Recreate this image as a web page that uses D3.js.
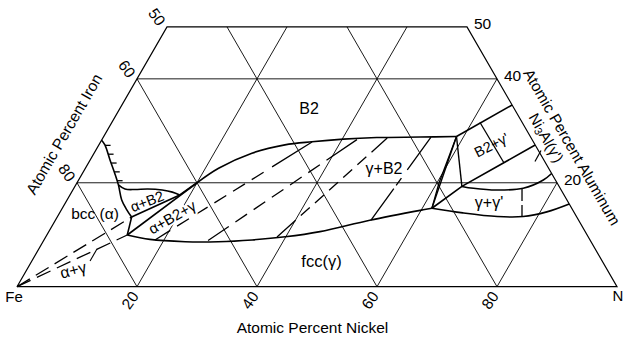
<!DOCTYPE html>
<html><head><meta charset="utf-8">
<script src="https://cdn.jsdelivr.net/npm/d3@7"></script>
<style>
html,body{margin:0;padding:0;background:#fff;}
svg{display:block;}
text{font-family:"Liberation Sans",Arial,Helvetica,sans-serif;fill:#000;}
</style></head><body>
<svg id="chart" width="624" height="341"></svg>
<script>
// ===== DATA : compositions in atomic percent, [Ni, Al] (Fe = balance) =====
const gridNi = [20, 40, 60, 80];
const gridFe = [20, 40, 60, 80];
const gridAl = [20, 40];
const alMax = 50;
const nickelTicks = [20, 40, 60, 80];
const ironTicks = [50, 60, 80];
const aluminumTicks = [50, 40, 20];

const bccOrderLine = [[0,28.2],[1.0,27.3],[3.3,24.4],[5.4,21.8],[7.1,19.6],[9.1,16.7],[10.9,14.8],[12.4,13.4]];
const bccHatchAl = [27.2, 25.5, 23.8, 22.1, 20.4];
const alphaB2Top = [[7.1,19.6],[8.6,18.8],[10.3,18.7],[12.4,18.8],[14.9,18.6],[16.8,18.2],[18.3,17.65]];
const alphaB2Edge = [[12.4,13.4],[18.3,17.65],[20,20]];
const gammaB2Edge = [[13.4,9.95],[20,20]];
const alphaGammaEdge = [[12.4,13.4],[12.9,11.7],[13.4,9.95]];
const alphaGammaUpper = [[0,0],[12.4,13.4]];
const alphaGammaLower = [[0,0],[13.4,9.95]];
const alphaGammaTie = [[9.7,4.95],[9.7,7.26]];
const fccBoundary = [[13.4,9.95],[17.6,9.1],[23.7,8.66],[29.2,8.66],[34.7,9.0],[39.9,9.6],[45.2,10.6],[52.4,12.8],[60.3,14.8],[61.6,15.1]];
const b2Boundary = [[20,20],[22.2,22.8],[26.3,25.7],[31.0,27.3],[35.2,27.9],[40.2,28.4],[45.6,28.7],[52.8,28.8],[58.8,28.9]];
const gammaB2Ties = [
  [[18.5,9.0],[35.25,27.85]],
  [[27.4,8.9],[42.5,28.3]],
  [[38.55,9.57],[47.4,28.6]],
  [[52.6,12.8],[54.6,28.8]]
];
const triB2GammaEdge = [[58.8,28.9],[61.6,15.1]];
const triSliver = [[58.8,28.9],[60.35,19.96],[61.6,15.1]];
const triB2GpEdge = [[58.8,28.9],[64.5,19.3]];
const b2GpLower = [[61.6,15.1],[64.5,19.3],[72.73,27.27]];
const b2GpUpper = [[58.8,28.9],[65.03,34.97]];
const b2GpTie = [[61.37,31.6],[69.27,23.81]];
const gpStub = [[74.28,24.1],[74.23,26.21]];
const ggpTop = [[64.5,19.3],[66.6,18.94],[70.6,18.6],[74.9,18.94],[77.45,20.54],[78.21,21.79]];
const ggpBottom = [[61.6,15.1],[67.2,14.2],[73.3,13.5],[77.6,13.5],[81.1,14.4],[84.08,15.92]];
const ggpTie = [[74.77,18.8],[77.41,13.51]];

const phaseNames = ["bcc (α)", "fcc(γ)", "B2", "γ+B2", "γ+γ'", "B2+γ'", "α+B2", "α+B2+γ", "α+γ"];

// ===== LAYOUT =====
const svg = d3.select('#chart');
const X = d3.scaleLinear().domain([0,100]).range([17,617]);
const Y = d3.scaleLinear().domain([0,100]).range([286.7, 286.7-519.615]);
const px = d => [X(d[0] + d[1]/2), Y(d[1])];
const lineStraight = d3.line().x(d => px(d)[0]).y(d => px(d)[1]);
const lineSmooth = d3.line().curve(d3.curveCatmullRom.alpha(0.5)).x(d => px(d)[0]).y(d => px(d)[1]);

function path(data, smooth, sw, dash){
  svg.append('path').attr('d', (smooth ? lineSmooth : lineStraight)(data))
    .attr('fill','none').attr('stroke','#000').attr('stroke-width', sw)
    .attr('stroke-dasharray', dash || null);
}

// grid
gridNi.forEach(v => path([[v,0],[v,Math.min(alMax,100-v)]], false, 0.9));
gridFe.forEach(v => { const a = Math.min(alMax,100-v); path([[100-v,0],[100-v-a,a]], false, 0.9); });
gridAl.forEach(v => path([[0,v],[100-v,v]], false, 0.9));
// outline
path([[0,0],[100,0],[100-alMax,alMax],[0,alMax],[0,0]], false, 1.2);

// phase boundaries
const BW = 1.6;
path(bccOrderLine, true, BW);
path(alphaB2Top, true, BW);
path(alphaB2Edge, false, BW);
path(gammaB2Edge, false, BW);
path(alphaGammaEdge, false, BW);
path(fccBoundary, true, BW);
path(b2Boundary, true, BW);
path(alphaGammaUpper, false, 1.3, "15,7");
path(alphaGammaLower, false, 1.3, "15,7");
path(alphaGammaTie, false, 1.1);
const tieDash = ["18,8,14,8,14,8,14,8,14,8,14,10,300","25,8,14,8,14,8,14,8,14,8,14,8,300","25,7,12,7,12,7,12,7,12,7,12,7,300","39,4,9,10,300"];
gammaB2Ties.forEach((t,i) => path(t, false, 1.3, tieDash[i]));
path(triB2GammaEdge, false, 1.4);
path(triSliver, false, 1.3);
path(triB2GpEdge, false, 1.4);
path(b2GpLower, false, BW);
path(b2GpUpper, false, BW);
path(b2GpTie, false, 1.3);
path(gpStub, false, 1.2);
path(ggpTop, true, BW);
path(ggpBottom, true, BW);
path(ggpTie, false, 1.3, "12,4");

// hatch marks on the bcc ordering line
const bccPx = bccOrderLine.map(px);
bccHatchAl.forEach(a => {
  const yy = Y(a);
  for (let i = 0; i < bccPx.length-1; i++){
    const [x1,y1] = bccPx[i], [x2,y2] = bccPx[i+1];
    if ((yy-y1)*(yy-y2) <= 0){
      const xx = x1 + (yy-y1)/(y2-y1)*(x2-x1);
      svg.append('line').attr('x1',xx).attr('y1',yy).attr('x2',xx+5.5).attr('y2',yy)
        .attr('stroke','#000').attr('stroke-width',1.3);
      break;
    }
  }
});

// text helper
function label(x, y, str, size, rot, anchor){
  const t = svg.append('text').attr('x',x).attr('y',y).attr('font-size',size)
    .attr('text-anchor', anchor || 'middle').attr('dominant-baseline','central').text(str);
  if (rot) t.attr('transform', `rotate(${rot},${x},${y})`);
  return t;
}

// tick labels
nickelTicks.forEach(v => { const [x,y] = px([v,0]); label(x-7, y+13.5, String(v), 15.5, -55); });
ironTicks.forEach(v => { const [x,y] = px([0,100-v]); label(x-10, y-10, String(v), 15.5, 55); });
aluminumTicks.forEach(v => { const [x,y] = px([100-v,v]); label(x+7, y-3, String(v), 15.5, 0, 'start'); });
{ const [x,y] = px([0,0]); label(x-3, y+9.5, "Fe", 15); }
{ const [x,y] = px([100,0]); label(x+1, y+8.5, "N", 15); }

// axis titles
label(312.5, 327, "Atomic Percent Nickel", 15.5);
label(64, 134, "Atomic Percent Iron", 15.5, -60);
label(572, 147, "Atomic Percent Aluminum", 15.5, 60);
{
  const [x,y] = px([73.97,28.71]);
  const t = svg.append('text').attr('x',x).attr('y',y).attr('font-size',15)
    .attr('text-anchor','middle').attr('dominant-baseline','central')
    .attr('transform',`rotate(60,${x},${y})`);
  t.append('tspan').text("Ni");
  t.append('tspan').attr('font-size',11).attr('dy',4).text("3");
  t.append('tspan').attr('dy',-4).text("Al(γ')");
}

// phase labels
const phaseLayout = {
  "bcc (α)": {at:[5.91,14.18], size:15.5, rot:0},
  "fcc(γ)": {at:[48.33,4.85], size:16.5, rot:0},
  "B2": {at:[31.52,34.3], size:16, rot:0},
  "γ+B2": {at:[49.8,22.75], size:16, rot:0},
  "γ+γ'": {at:[70.52,16.3], size:16, rot:0},
  "B2+γ'": {at:[65.44,27.27], size:14.5, rot:-27},
  "α+B2": {at:[13.47,16.4], size:14.5, rot:-21},
  "α+B2+γ": {at:[19.12,13.41], size:15, rot:-30, halo:true},
  "α+γ": {at:[7.77,3.21], size:16, rot:-15}
};
phaseNames.forEach(n => {
  const L = phaseLayout[n]; const [x,y] = px(L.at);
  const t = label(x, y, n, L.size, L.rot);
  if (L.halo) t.attr('stroke','#fff').attr('stroke-width',4).attr('paint-order','stroke').attr('stroke-linejoin','round');
});
</script>
</body></html>
